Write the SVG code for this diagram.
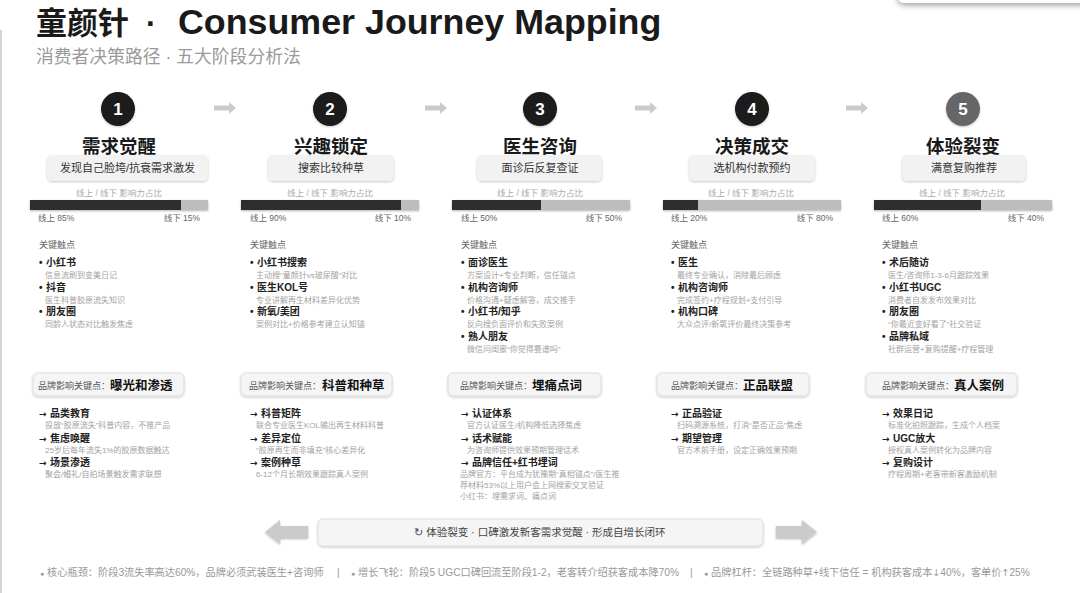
<svg xmlns="http://www.w3.org/2000/svg" width="1080" height="593" viewBox="0 0 1080 593">
<defs>
<filter id="sh" x="-10%" y="-30%" width="120%" height="170%"><feDropShadow dx="0" dy="1" stdDeviation="1.3" flood-color="#000" flood-opacity="0.22"/></filter>
<filter id="sh2" x="-20%" y="-50%" width="140%" height="220%"><feDropShadow dx="0" dy="2" stdDeviation="3" flood-color="#000" flood-opacity="0.4"/></filter>
<filter id="sh3" x="-20%" y="-50%" width="140%" height="200%"><feDropShadow dx="0" dy="1" stdDeviation="1" flood-color="#000" flood-opacity="0.3"/></filter>
</defs>
<style>
text{font-family:"Liberation Sans","Noto Sans CJK SC",sans-serif}
.num{font-size:17px;font-weight:700;fill:#fff;text-anchor:middle}
.st{font-size:18.5px;font-weight:700;fill:#1a1a1a;text-anchor:middle}
.pill{fill:#f2f2f2;filter:url(#sh)}
.pt{font-size:11px;fill:#333;text-anchor:middle}
.cap{font-size:8.5px;fill:#aaa;text-anchor:middle}
.bl{font-size:8.5px;fill:#666}
.br{font-size:8.5px;fill:#666;text-anchor:end}
.sec{font-size:9px;fill:#666}
.it{font-size:10px;font-weight:700;fill:#222}
.aw{font-family:"DejaVu Sans",sans-serif;font-size:9px;font-weight:700}
.fa{font-family:"DejaVu Sans",sans-serif;font-size:9.5px}
.ds{font-size:8px;fill:#a3a3a3}
.bx{fill:#f5f5f5;stroke:#ddd;stroke-width:1;filter:url(#sh)}
.bs{font-size:9px;fill:#555}
.bb{font-size:12.5px;font-weight:700;fill:#111}
.dk{fill:#2e2e2e}
.lt{fill:#bdbdbd}
.ft{font-size:10.2px;fill:#999}
.ar{fill:#cbcbcb}
</style>
<rect width="1080" height="593" fill="#fff"/>
<line x1="1" y1="30" x2="1" y2="593" stroke="#d4d4d4" stroke-width="2"/>
<rect x="897" y="-30" width="200" height="33" rx="8" fill="#fff" filter="url(#sh2)"/>

<g id="header">
<text x="36" y="34" font-size="31" font-weight="700" fill="#1a1a1a">童颜针</text>
<text x="146" y="34" font-size="31" font-weight="700" fill="#1a1a1a">·</text>
<text x="178" y="34" font-size="35.8" font-weight="700" fill="#1a1a1a">Consumer Journey Mapping</text>
<text x="36" y="63" font-size="17.8" fill="#9a9a9a">消费者决策路径 · 五大阶段分析法</text>
<line x1="30" y1="72" x2="1050" y2="72" stroke="#dcdcdc" stroke-width="2" filter="url(#sh3)"/>
</g>

<g id="connectors">
<path class="ar" d="M214 105.5h15v-3.5l7 6-7 6v-3.5h-15z"/>
<path class="ar" d="M425 105.5h15v-3.5l7 6-7 6v-3.5h-15z"/>
<path class="ar" d="M635 105.5h15v-3.5l7 6-7 6v-3.5h-15z"/>
<path class="ar" d="M846 105.5h15v-3.5l7 6-7 6v-3.5h-15z"/>
<path class="ar" d="M265 532l15-12v6h28v12h-28v6z" filter="url(#sh3)"/>
<path class="ar" d="M817 532l-15-12v6h-26v12h26v6z" filter="url(#sh3)"/>
</g>

<g id="stage1">
<circle cx="118" cy="109" r="17" fill="#1a1a1a" filter="url(#sh)"/>
<text class="num" x="118" y="115">1</text>
<text class="st" x="119" y="153">需求觉醒</text>
<rect class="pill" x="47" y="155" width="161" height="26" rx="5"/>
<text class="pt" x="127.5" y="172">发现自己脸垮/抗衰需求激发</text>
<text class="cap" x="119" y="196">线上 / 线下 影响力占比</text>
<rect class="lt" x="30" y="200" width="178" height="10" filter="url(#sh3)"/>
<rect class="dk" x="30" y="200" width="151" height="10"/>
<text class="bl" x="38" y="221">线上 85%</text>
<text class="br" x="200" y="221">线下 15%</text>
<text class="sec" x="39" y="248">关键触点</text>
<text class="it" x="39" y="266">•<tspan x="46">小红书</tspan></text>
<text class="ds" x="45" y="278">信息流刷到变美日记</text>
<text class="it" x="39" y="290.5">•<tspan x="46">抖音</tspan></text>
<text class="ds" x="45" y="302.5">医生科普胶原流失知识</text>
<text class="it" x="39" y="315">•<tspan x="46">朋友圈</tspan></text>
<text class="ds" x="45" y="327">同龄人状态对比触发焦虑</text>
<rect class="bx" x="33" y="373" width="151" height="23" rx="5"/>
<text class="bs" x="38" y="389">品牌影响关键点：</text>
<text class="bb" x="110" y="390">曝光和渗透</text>
<text class="it" x="39" y="417"><tspan class="aw">→</tspan><tspan x="50">品类教育</tspan></text>
<text class="ds" x="45" y="428">投放“胶原流失”科普内容，不推产品</text>
<text class="it" x="39" y="441.5"><tspan class="aw">→</tspan><tspan x="50">焦虑唤醒</tspan></text>
<text class="ds" x="45" y="452.5">25岁后每年流失1%的胶原数据触达</text>
<text class="it" x="39" y="466"><tspan class="aw">→</tspan><tspan x="50">场景渗透</tspan></text>
<text class="ds" x="45" y="477">聚会/婚礼/自拍场景触发需求联想</text>
</g>

<g id="stage2">
<circle cx="330" cy="109" r="17" fill="#1a1a1a" filter="url(#sh)"/>
<text class="num" x="330" y="115">2</text>
<text class="st" x="331" y="153">兴趣锁定</text>
<rect class="pill" x="268" y="155" width="126" height="26" rx="5"/>
<text class="pt" x="331" y="172">搜索比较种草</text>
<text class="cap" x="330" y="196">线上 / 线下 影响力占比</text>
<rect class="lt" x="241" y="200" width="178" height="10" filter="url(#sh3)"/>
<rect class="dk" x="241" y="200" width="160" height="10"/>
<text class="bl" x="250" y="221">线上 90%</text>
<text class="br" x="411" y="221">线下 10%</text>
<text class="sec" x="250" y="248">关键触点</text>
<text class="it" x="250" y="266">•<tspan x="257">小红书搜索</tspan></text>
<text class="ds" x="256" y="278">主动搜“童颜针vs玻尿酸”对比</text>
<text class="it" x="250" y="290.5">•<tspan x="257">医生KOL号</tspan></text>
<text class="ds" x="256" y="302.5">专业讲解再生材料差异化优势</text>
<text class="it" x="250" y="315">•<tspan x="257">新氧/美团</tspan></text>
<text class="ds" x="256" y="327">案例对比+价格参考建立认知锚</text>
<rect class="bx" x="241" y="373" width="151" height="23" rx="5"/>
<text class="bs" x="249" y="389">品牌影响关键点：</text>
<text class="bb" x="322" y="390">科普和种草</text>
<text class="it" x="250" y="417"><tspan class="aw">→</tspan><tspan x="261">科普矩阵</tspan></text>
<text class="ds" x="256" y="428">联合专业医生KOL输出再生材料科普</text>
<text class="it" x="250" y="441.5"><tspan class="aw">→</tspan><tspan x="261">差异定位</tspan></text>
<text class="ds" x="256" y="452.5">“胶原再生而非填充”核心差异化</text>
<text class="it" x="250" y="466"><tspan class="aw">→</tspan><tspan x="261">案例种草</tspan></text>
<text class="ds" x="256" y="477">6-12个月长期效果跟踪真人案例</text>
</g>

<g id="stage3">
<circle cx="540" cy="109" r="17" fill="#1a1a1a" filter="url(#sh)"/>
<text class="num" x="540" y="115">3</text>
<text class="st" x="540" y="153">医生咨询</text>
<rect class="pill" x="477" y="155" width="125" height="26" rx="5"/>
<text class="pt" x="540" y="172">面诊后反复查证</text>
<text class="cap" x="540" y="196">线上 / 线下 影响力占比</text>
<rect class="lt" x="452" y="200" width="178" height="10" filter="url(#sh3)"/>
<rect class="dk" x="452" y="200" width="89" height="10"/>
<text class="bl" x="461" y="221">线上 50%</text>
<text class="br" x="622" y="221">线下 50%</text>
<text class="sec" x="461" y="248">关键触点</text>
<text class="it" x="461" y="266">•<tspan x="468">面诊医生</tspan></text>
<text class="ds" x="467" y="278">方案设计+专业判断，信任锚点</text>
<text class="it" x="461" y="290.5">•<tspan x="468">机构咨询师</tspan></text>
<text class="ds" x="467" y="302.5">价格沟通+疑虑解答，成交推手</text>
<text class="it" x="461" y="315">•<tspan x="468">小红书/知乎</tspan></text>
<text class="ds" x="467" y="327">反向搜负面评价和失败案例</text>
<text class="it" x="461" y="339.5">•<tspan x="468">熟人朋友</tspan></text>
<text class="ds" x="467" y="351.5">微信问闺蜜“你觉得靠谱吗”</text>
<rect class="bx" x="448" y="373" width="153" height="23" rx="5"/>
<text class="bs" x="460" y="389">品牌影响关键点：</text>
<text class="bb" x="532" y="390">埋痛点词</text>
<text class="it" x="461" y="417"><tspan class="aw">→</tspan><tspan x="472">认证体系</tspan></text>
<text class="ds" x="467" y="428">官方认证医生/机构降低选择焦虑</text>
<text class="it" x="461" y="441.5"><tspan class="aw">→</tspan><tspan x="472">话术赋能</tspan></text>
<text class="ds" x="467" y="452.5">为咨询师提供效果预期管理话术</text>
<text class="it" x="461" y="466"><tspan class="aw">→</tspan><tspan x="472">品牌信任+红书埋词</tspan></text>
<text class="ds" x="460" y="477">品牌官方：平台成为犹豫期“真相锚点”/医生推</text>
<text class="ds" x="460" y="488">荐材料53%以上用户会上网搜索交叉验证</text>
<text class="ds" x="460" y="499">小红书：埋需求词、痛点词</text>
</g>

<g id="stage4">
<circle cx="752" cy="109" r="17" fill="#1a1a1a" filter="url(#sh)"/>
<text class="num" x="752" y="115">4</text>
<text class="st" x="752" y="153">决策成交</text>
<rect class="pill" x="689" y="155" width="126" height="26" rx="5"/>
<text class="pt" x="752" y="172">选机构付款预约</text>
<text class="cap" x="751" y="196">线上 / 线下 影响力占比</text>
<rect class="lt" x="663" y="200" width="178" height="10" filter="url(#sh3)"/>
<rect class="dk" x="663" y="200" width="35" height="10"/>
<text class="bl" x="671" y="221">线上 20%</text>
<text class="br" x="833" y="221">线下 80%</text>
<text class="sec" x="671" y="248">关键触点</text>
<text class="it" x="671" y="266">•<tspan x="678">医生</tspan></text>
<text class="ds" x="677" y="278">最终专业确认，消除最后顾虑</text>
<text class="it" x="671" y="290.5">•<tspan x="678">机构咨询师</tspan></text>
<text class="ds" x="677" y="302.5">完成签约+疗程规划+支付引导</text>
<text class="it" x="671" y="315">•<tspan x="678">机构口碑</tspan></text>
<text class="ds" x="677" y="327">大众点评/新氧评价最终决策参考</text>
<rect class="bx" x="657" y="373" width="152" height="23" rx="5"/>
<text class="bs" x="671" y="389">品牌影响关键点：</text>
<text class="bb" x="743" y="390">正品联盟</text>
<text class="it" x="671" y="417"><tspan class="aw">→</tspan><tspan x="682">正品验证</tspan></text>
<text class="ds" x="677" y="428">扫码溯源系统，打消“是否正品”焦虑</text>
<text class="it" x="671" y="441.5"><tspan class="aw">→</tspan><tspan x="682">期望管理</tspan></text>
<text class="ds" x="677" y="452.5">官方术前手册，设定正确效果预期</text>
</g>

<g id="stage5">
<circle cx="963" cy="109" r="17" fill="#666" filter="url(#sh)"/>
<text class="num" x="963" y="115">5</text>
<text class="st" x="963" y="153">体验裂变</text>
<rect class="pill" x="902" y="155" width="124" height="26" rx="5"/>
<text class="pt" x="964" y="172">满意复购推荐</text>
<text class="cap" x="962" y="196">线上 / 线下 影响力占比</text>
<rect class="lt" x="874" y="200" width="178" height="10" filter="url(#sh3)"/>
<rect class="dk" x="874" y="200" width="107" height="10"/>
<text class="bl" x="882" y="221">线上 60%</text>
<text class="br" x="1044" y="221">线下 40%</text>
<text class="sec" x="882" y="248">关键触点</text>
<text class="it" x="882" y="266">•<tspan x="889">术后随访</tspan></text>
<text class="ds" x="888" y="278">医生/咨询师1-3-6月跟踪效果</text>
<text class="it" x="882" y="290.5">•<tspan x="889">小红书UGC</tspan></text>
<text class="ds" x="888" y="302.5">消费者自发发布效果对比</text>
<text class="it" x="882" y="315">•<tspan x="889">朋友圈</tspan></text>
<text class="ds" x="888" y="327">“你最近变好看了”社交验证</text>
<text class="it" x="882" y="339.5">•<tspan x="889">品牌私域</tspan></text>
<text class="ds" x="888" y="351.5">社群运营+复购提醒+疗程管理</text>
<rect class="bx" x="866" y="373" width="151" height="23" rx="5"/>
<text class="bs" x="882" y="389">品牌影响关键点：</text>
<text class="bb" x="954" y="390">真人案例</text>
<text class="it" x="882" y="417"><tspan class="aw">→</tspan><tspan x="893">效果日记</tspan></text>
<text class="ds" x="888" y="428">标准化拍照跟踪，生成个人档案</text>
<text class="it" x="882" y="441.5"><tspan class="aw">→</tspan><tspan x="893">UGC放大</tspan></text>
<text class="ds" x="888" y="452.5">授权真人案例转化为品牌内容</text>
<text class="it" x="882" y="466"><tspan class="aw">→</tspan><tspan x="893">复购设计</tspan></text>
<text class="ds" x="888" y="477">疗程周期+老客带新客激励机制</text>
</g>

<g id="loop">
<rect class="bx" x="318" y="519" width="445" height="27" rx="5"/>
<text x="540" y="536" font-size="10.5" fill="#444" text-anchor="middle">↻ 体验裂变 · 口碑激发新客需求觉醒 · 形成自增长闭环</text>
</g>

<g id="footer">
<text class="ft" x="40" y="576"><tspan font-size="7">●</tspan> 核心瓶颈：阶段3流失率高达60%，品牌必须武装医生+咨询师</text>
<text class="ft" x="337" y="576">|</text>
<text class="ft" x="351" y="576"><tspan font-size="7">●</tspan> 增长飞轮：阶段5 UGC口碑回流至阶段1-2，老客转介绍获客成本降70%</text>
<text class="ft" x="690" y="576">|</text>
<text class="ft" x="704" y="576"><tspan font-size="7">●</tspan> 品牌杠杆：全链路种草+线下信任 = 机构获客成本<tspan class="fa">↓</tspan>40%，客单价<tspan class="fa">↑</tspan>25%</text>
</g>
</svg>
